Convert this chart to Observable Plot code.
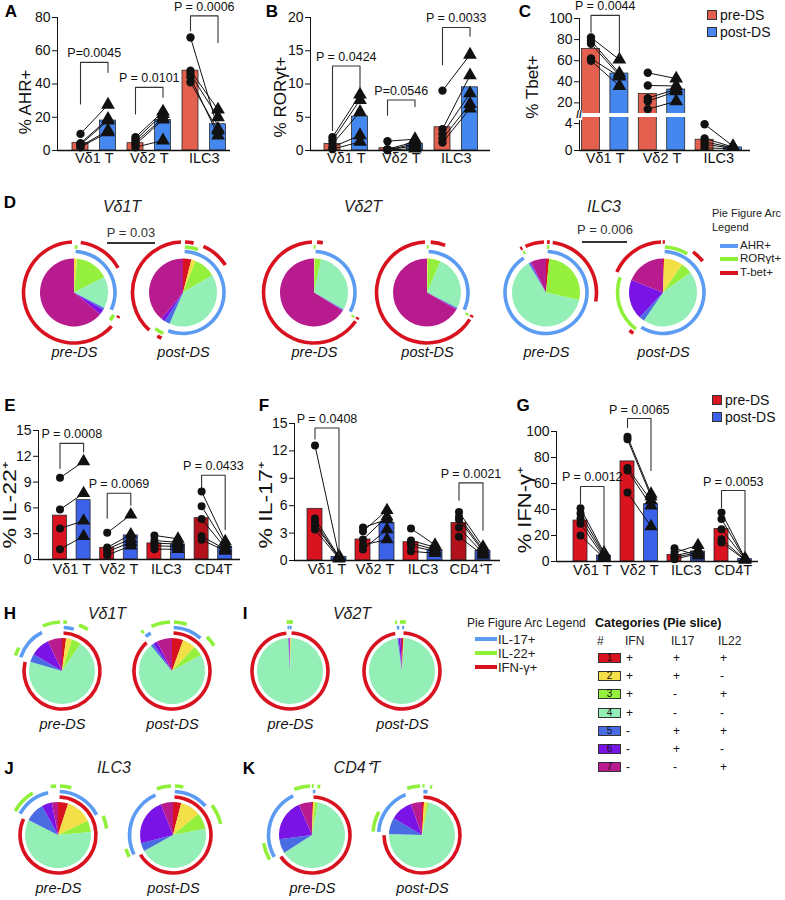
<!DOCTYPE html>
<html><head><meta charset="utf-8">
<script src="https://cdn.jsdelivr.net/npm/d3@7"></script>
<script src="https://cdn.jsdelivr.net/npm/@observablehq/plot@0.6"></script>
<style>
body{margin:0;background:#fff;}
#fig{position:relative;width:785px;height:900px;overflow:hidden;font-family:"Liberation Sans",Arial,Helvetica,sans-serif;color:#111;background:#fff;}
.lbl{position:absolute;white-space:nowrap;line-height:1;}
</style></head><body><div id="fig"></div>
<script>
// ---------------- DATA ----------------
const topGroups = ["Vδ1 T", "Vδ2 T", "ILC3"];
// A: % AHR+
const ahrBarPre = [4.6, 4.4, 48];
const ahrBarPost = [18, 18.3, 15.8];
const ahrPre = [[10, 4.4, 3.6, 2.6, 2.0], [8.0, 6.4, 5.0, 3.6, 2.0], [68, 48, 46, 44, 41]];
const ahrPost = [[27.5, 19, 18, 12, 11], [23.4, 22, 19.6, 18.6, 6], [13, 24.6, 20, 9, 12]];
const ahrP = [{g: 0, top: 53, l: 28, r: 47, p: "P=0.0045"}, {g: 1, top: 38, l: 22, r: 32, p: "P = 0.0101"}, {g: 2, top: 81, l: 72, r: 65, p: "P = 0.0006"}];
// B: % RORγt+
const rorBarPre = [1.0, 0.35, 3.5];
const rorBarPost = [5.1, 1.0, 9.5];
const rorPre = [[2.0, 1.5, 1.0, 0.5, 0.2], [1.4, 0.2, 0.1, 0.1, 0.05], [9.0, 3.2, 2.5, 1.8, 1.2]];
const rorPost = [[8.4, 7.6, 5.8, 2.3, 1.3], [1.7, 1.3, 1.0, 0.7, 0.3], [14.4, 11.3, 8.6, 7.0, 6.3]];
const rorP = [{g: 0, top: 12.7, l: 3.0, r: 9.4, p: "P = 0.0424"}, {g: 1, top: 7.6, l: 5.3, r: 6.6, p: "P=0.0546"}, {g: 2, top: 18.5, l: 12.9, r: 17.2, p: "P = 0.0033"}];
// C: % Tbet+
const tbetBarPre = [71, 28.5, 1.6];
const tbetBarPost = [47.8, 32.6, 0.45];
const tbetPre = [[82, 79, 76, 62, 60], [48.5, 36.5, 24.5, 21.5, 14], [3.9, 1.8, 1.3, 0.9, 0.4]];
const tbetPost = [[61, 48, 46, 45, 36], [43, 36, 33, 31, 21.5], [0.65, 0.5, 0.4, 0.35, 0.25]];
const tbetP = [{g: 0, top: 103, l: 87, r: 63.6, p: "P = 0.0044"}];

// E: % IL-22+
const il22Groups = ["Vδ1 T", "Vδ2 T", "ILC3", "CD4T"];
const il22BarPre = [5.1, 1.36, 1.87, 4.8];
const il22BarPost = [6.9, 2.8, 1.75, 1.48];
const il22Pre = [[9.5, 5.8, 3.6, 1.2], [3.1, 1.4, 1.2, 0.9, 0.5], [2.8, 2.2, 1.9, 1.6, 1.2], [7.9, 6.2, 4.7, 2.7, 2.3]];
const il22Post = [[11.4, 7.7, 4.5, 2.7], [5.2, 2.9, 2.4, 2.0, 1.6], [2.4, 2.0, 1.8, 1.5, 1.2], [2.1, 1.75, 1.35, 1.2, 1.0]];
const il22P = [{g: 0, top: 13.5, l: 10.6, r: 12.5, p: "P = 0.0008"}, {g: 1, top: 7.7, l: 4.8, r: 6.3, p: "P = 0.0069"}, {g: 3, top: 9.8, l: 8.3, r: 3.5, p: "P = 0.0433"}];
// F: % IL-17+
const il17Groups = ["Vδ1 T", "Vδ2 T", "ILC3", "CD4⁺T"];
const il17BarPre = [5.66, 2.3, 2.0, 4.1];
const il17BarPost = [0.4, 4.1, 1.17, 1.05];
const il17Pre = [[12.6, 4.6, 4.2, 3.9, 3.4], [3.6, 3.2, 2.3, 1.7, 1.2], [3.5, 2.2, 1.9, 1.6, 1.0], [5.3, 4.8, 4.5, 3.6, 2.6]];
const il17Post = [[0.5, 0.4, 0.3, 0.3, 0.2], [4.5, 5.5, 4.8, 2.3, 3.4], [1.7, 1.45, 1.2, 1.0, 0.8], [1.5, 1.2, 1.0, 0.8, 0.6]];
const il17P = [{g: 0, top: 14.5, l: 13.3, r: 0.6, p: "P = 0.0408"}, {g: 3, top: 8.5, l: 6.6, r: 3.3, p: "P = 0.0021"}];
// G: % IFN-γ+
const ifnGroups = ["Vδ1 T", "Vδ2 T", "ILC3", "CD4T"];
const ifnBarPre = [31.5, 77, 5.1, 25];
const ifnBarPost = [4.5, 44, 7.7, 1.8];
const ifnPre = [[41, 37, 33, 29, 20], [96, 94, 72, 70, 53], [10.2, 6.9, 4.4, 3.1, 1.8], [37.7, 32.6, 24.9, 17.2, 14.6]];
const ifnPost = [[6.9, 5.6, 4.4, 3.1, 2.6], [52, 50, 47, 43, 27], [4.5, 12.5, 8.5, 7, 6], [2.5, 2, 1.8, 1.5, 1.2]];
const ifnP = [{g: 0, top: 57.7, l: 44.6, r: 8, p: "P = 0.0012"}, {g: 1, top: 110, l: 103, r: 70, p: "P = 0.0065"}, {g: 3, top: 54.6, l: 41.5, r: 7, p: "P = 0.0053"}];

// Pie slice categories (1..7) and marker signs
const catIds = ["1", "2", "3", "4", "5", "6", "7"];
const catIFN = ["+", "+", "+", "+", "-", "-", "-"];
const catIL17 = ["+", "+", "-", "-", "+", "+", "-"];
const catIL22 = ["+", "-", "+", "-", "+", "-", "+"];
// D pies (AHR / RORγt / T-bet), fractions of categories 1..7
const dVd1Pre = [0, 0.015, 0.16, 0.15, 0.01, 0.025, 0.64];
const dVd1Post = [0.04, 0.02, 0.105, 0.40, 0.025, 0.02, 0.39];
const dVd2Pre = [0, 0.004, 0.03, 0.30, 0.003, 0.003, 0.66];
const dVd2Post = [0, 0.005, 0.06, 0.26, 0.005, 0.003, 0.667];
const dIlc3Pre = [0.015, 0, 0.27, 0.63, 0.008, 0.004, 0.073];
const dIlc3Post = [0.005, 0.09, 0.055, 0.445, 0.025, 0.19, 0.19];
// H-K pies (IFN / IL17 / IL22)
const hVd1Pre = [0.02, 0.03, 0.045, 0.70, 0.04, 0.095, 0.07];
const hVd1Post = [0.055, 0.065, 0.05, 0.72, 0.015, 0.02, 0.075];
const iVd2Pre = [0.001, 0.004, 0.001, 0.985, 0.003, 0.004, 0.002];
const iVd2Post = [0.006, 0.002, 0.002, 0.968, 0.005, 0.01, 0.007];
const jIlc3Pre = [0.05, 0.13, 0.055, 0.59, 0.095, 0.05, 0.03];
const jIlc3Post = [0.04, 0.10, 0.08, 0.45, 0.04, 0.23, 0.06];
const kCd4Pre = [0.005, 0.01, 0.015, 0.63, 0.07, 0.205, 0.065];
const kCd4Post = [0.01, 0.015, 0.01, 0.72, 0.08, 0.11, 0.055];

// ---------------- STYLE ----------------
const FONT = '"Liberation Sans", Arial, Helvetica, sans-serif';
const sliceColors = ["#D8121E", "#F3DF47", "#94F03D", "#93EFB6", "#4A6CE3", "#7A13E6", "#B71B8E"];
const RED = "#D8121E", BLUE_ARC = "#5B9CF2", GREEN_ARC = "#8FF03A";
const fig = document.getElementById("fig");

function place(node, left, top) {
  node.style.position = "absolute";
  node.style.left = left + "px";
  node.style.top = top + "px";
  fig.appendChild(node);
}
function ctext(str, cx, cy, css = {}, extra = "") {
  const d = document.createElement("div");
  d.className = "lbl";
  d.textContent = str;
  d.style.left = cx + "px";
  d.style.top = cy + "px";
  d.style.transform = "translate(-50%,-50%) " + extra;
  Object.assign(d.style, css);
  fig.appendChild(d);
  return d;
}
function ltext(str, x, cy, css = {}) {
  const d = document.createElement("div");
  d.className = "lbl";
  d.textContent = str;
  d.style.left = x + "px";
  d.style.top = cy + "px";
  d.style.transform = "translateY(-50%)";
  Object.assign(d.style, css);
  fig.appendChild(d);
  return d;
}
function box(x, y, w, h, css) {
  const d = document.createElement("div");
  d.style.position = "absolute";
  d.style.left = x + "px"; d.style.top = y + "px";
  d.style.width = w + "px"; d.style.height = h + "px";
  Object.assign(d.style, css);
  fig.appendChild(d);
  return d;
}

function bandOpts(n, W, c0, step, bw) {
  const pi = 1 - bw / step;
  const po = Math.max(0, (W / step - (n - pi)) / 2);
  const span = W - step * (n - pi);
  const align = span > 0 ? Math.max(0, Math.min(1, (c0 - bw / 2) / span)) : 0.5;
  return {paddingInner: pi, paddingOuter: po, align};
}

function barPanel(cfg) {
  const {groups, barPre, barPost, ptsPre, ptsPost, brackets} = cfg;
  const keys = groups.flatMap(g => [g + "|pre", g + "|post"]);
  const bars = groups.flatMap((g, i) => [
    {key: g + "|pre", v: barPre[i], t: (cfg.darkLast && i === groups.length - 1) ? "dark" : "pre"},
    {key: g + "|post", v: barPost[i], t: "post"}
  ]);
  const pre = [], post = [], links = [];
  groups.forEach((g, i) => {
    ptsPre[i].forEach((v, j) => { pre.push({key: g + "|pre", v}); links.push({key: g + "|pre", v, id: g + j}); });
    ptsPost[i].forEach((v, j) => { post.push({key: g + "|post", v}); links.push({key: g + "|post", v, id: g + j}); });
  });
  const br = (brackets || []).flatMap((b, k) => {
    const g = groups[b.g];
    return [{key: g + "|pre", v: b.l, id: k}, {key: g + "|pre", v: b.top, id: k}, {key: g + "|post", v: b.top, id: k}, {key: g + "|post", v: b.r, id: k}];
  });
  const W = cfg.width - cfg.marginLeft - cfg.marginRight;
  const clip = !!cfg.clip;
  const svg = Plot.plot({
    width: cfg.width, height: cfg.height,
    marginLeft: cfg.marginLeft, marginRight: cfg.marginRight, marginTop: cfg.marginTop, marginBottom: cfg.marginBottom,
    style: {fontFamily: FONT, fontSize: "14px", color: "#111", background: "transparent", overflow: "visible"},
    x: {type: "band", domain: keys, ...bandOpts(keys.length, W, cfg.c0, cfg.step, cfg.bw), round: false, axis: null},
    y: {domain: cfg.yDomain, ticks: cfg.yTicks, tickFormat: d => String(d), tickSize: 5, tickPadding: 2, label: null, line: true},
    color: {domain: ["pre", "post", "dark"], range: cfg.colors},
    marks: [
      Plot.barY(bars, {x: "key", y: "v", fill: "t", stroke: "#2a2a2a", strokeWidth: 0.8, clip}),
      Plot.line(links, {x: "key", y: "v", z: "id", stroke: "#111", strokeWidth: 1, clip}),
      Plot.dot(pre, {x: "key", y: "v", r: cfg.r, fill: "#111", symbol: "circle", clip}),
      Plot.dot(post, {x: "key", y: "v", r: cfg.r + 0.9, fill: "#111", symbol: "triangle", clip}),
      cfg.baseline === false ? null : Plot.ruleY([cfg.yDomain[0]], {stroke: "#111", strokeWidth: 1.5}),
      Plot.line(br, {x: "key", y: "v", z: "id", stroke: "#333", strokeWidth: 1.1}),
      Plot.text(brackets || [], {x: b => groups[b.g] + "|pre", y: "top", text: "p", dx: cfg.step / 2, dy: -9, fontSize: cfg.pSize || 12.5}),
      cfg.labels === false ? null : Plot.text(groups, {x: g => g + "|pre", text: d => d, frameAnchor: "bottom", dx: cfg.step / 2, dy: cfg.labelDy || 13, fontSize: 14.5})
    ]
  });
  place(svg, cfg.left, cfg.top);
}

function piePanel(cfg) {
  const {top, xPre, xPost, height, marginBottom, r, radii, ringColors, pies, labelDy} = cfg;
  const marginLeft = 60, marginRight = 60;
  const width = marginLeft + (xPost - xPre) + marginRight;
  const signs = [catIFN, catIL17, catIL22];
  const svg = Plot.plot({
    width, height, marginLeft, marginRight, marginTop: 0, marginBottom,
    style: {fontFamily: FONT, fontSize: "14px", color: "#111", background: "transparent", overflow: "visible"},
    x: {type: "point", domain: ["pre-DS", "post-DS"], padding: 0, axis: null},
    marks: [
      Plot.text(pies, {x: "time", text: "time", frameAnchor: "bottom", dy: labelDy, fontStyle: "italic", fontSize: 14.5}),
      (index, scales, values, dims) => {
        const g = d3.create("svg:g");
        const cy = (dims.marginTop + dims.height - dims.marginBottom) / 2;
        const arcGen = d3.arc();
        for (const p of pies) {
          const cx = scales.x(p.time);
          const gg = g.append("g").attr("transform", `translate(${cx},${cy})`);
          const arcs = d3.pie().sort(null).value(d => d)(p.f);
          gg.selectAll("path.s").data(arcs).join("path")
            .attr("d", d => arcGen({innerRadius: 0, outerRadius: r, startAngle: d.startAngle, endAngle: d.endAngle}))
            .attr("fill", (d, i) => sliceColors[i]);
          const total = d3.sum(p.f);
          const cum = [0];
          p.f.forEach(v => cum.push(cum[cum.length - 1] + v / total * 2 * Math.PI));
          signs.forEach((sg, m) => {
            let k = 0;
            while (k < 7) {
              if (sg[k] === "+") {
                let k2 = k;
                while (k2 + 1 < 7 && sg[k2 + 1] === "+") k2++;
                const a0 = cum[k], a1 = cum[k2 + 1], len = a1 - a0;
                if (len > 0.002) {
                  const pad = Math.min(0.04, len * 0.2);
                  const mid = (a0 + a1) / 2;
                  const half = Math.max((len - 2 * pad) / 2, 0.022);
                  gg.append("path")
                    .attr("d", arcGen({innerRadius: radii[m] - 1.8, outerRadius: radii[m] + 1.8, startAngle: mid - half, endAngle: mid + half}))
                    .attr("fill", ringColors[m]);
                }
                k = k2 + 1;
              } else k++;
            }
          });
        }
        return g.node();
      }
    ]
  });
  place(svg, xPre - marginLeft, top);
}

// ---------------- TOP ROW ----------------
const topColors = ["#E3604E", "#4487EF", "#E3604E"];
barPanel({left: 0, top: 0, width: 240, height: 175, marginLeft: 57, marginRight: 10, marginTop: 17, marginBottom: 25,
  groups: topGroups, barPre: ahrBarPre, barPost: ahrBarPost, ptsPre: ahrPre, ptsPost: ahrPost, brackets: ahrP,
  yDomain: [0, 80], yTicks: [0, 20, 40, 60, 80], c0: 23, step: 27.5, bw: 16, r: 4.2, colors: topColors, labelDy: 12.5});
barPanel({left: 250, top: 0, width: 250, height: 175, marginLeft: 60, marginRight: 10, marginTop: 17, marginBottom: 25,
  groups: topGroups, barPre: rorBarPre, barPost: rorBarPost, ptsPre: rorPre, ptsPost: rorPost, brackets: rorP,
  yDomain: [0, 20], yTicks: [0, 5, 10, 15, 20], c0: 22, step: 27.5, bw: 16, r: 4.2, colors: topColors, labelDy: 12.5});
// C: broken axis (upper and lower segments)
barPanel({left: 520, top: 0, width: 240, height: 113, marginLeft: 59, marginRight: 10, marginTop: 18, marginBottom: 0,
  groups: topGroups, barPre: tbetBarPre, barPost: tbetBarPost, ptsPre: tbetPre, ptsPost: tbetPost, brackets: tbetP,
  yDomain: [9.9, 100], yTicks: [20, 40, 60, 80, 100], c0: 11.5, step: 28.4, bw: 18, r: 4.2, colors: topColors,
  clip: true, baseline: false, labels: false});
barPanel({left: 520, top: 117, width: 240, height: 58, marginLeft: 59, marginRight: 10, marginTop: 0, marginBottom: 25,
  groups: topGroups, barPre: tbetBarPre, barPost: tbetBarPost, ptsPre: tbetPre, ptsPost: tbetPost, brackets: [],
  yDomain: [0, 4.9], yTicks: [0, 4], c0: 11.5, step: 28.4, bw: 18, r: 4.2, colors: topColors, clip: true, labelDy: 12.5});

// ---------------- BOTTOM BAR ROW ----------------
const botColors = ["#D9131F", "#3B62E8", "#B3121C"];
barPanel({left: 0, top: 400, width: 250, height: 184, marginLeft: 38, marginRight: 10, marginTop: 30, marginBottom: 25,
  groups: il22Groups, barPre: il22BarPre, barPost: il22BarPost, ptsPre: il22Pre, ptsPost: il22Post, brackets: il22P,
  yDomain: [0, 15], yTicks: [0, 3, 6, 9, 12, 15], c0: 21.5, step: 23.6, bw: 14, r: 4, colors: botColors, darkLast: true, labelDy: 14});
barPanel({left: 255, top: 395, width: 255, height: 190, marginLeft: 39, marginRight: 10, marginTop: 28, marginBottom: 25,
  groups: il17Groups, barPre: il17BarPre, barPost: il17BarPost, ptsPre: il17Pre, ptsPost: il17Post, brackets: il17P,
  yDomain: [0, 15], yTicks: [0, 3, 6, 9, 12, 15], c0: 20.5, step: 24, bw: 15, r: 4, colors: botColors, darkLast: true, labelDy: 13});
barPanel({left: 515, top: 395, width: 253, height: 191, marginLeft: 41, marginRight: 10, marginTop: 36, marginBottom: 25,
  groups: ifnGroups, barPre: ifnBarPre, barPost: ifnBarPost, ptsPre: ifnPre, ptsPost: ifnPost, brackets: ifnP,
  yDomain: [0, 100], yTicks: [0, 20, 40, 60, 80, 100], c0: 24, step: 23.5, bw: 14, r: 4, colors: botColors, labelDy: 13});

// ---------------- PIES ----------------
const dRings = [BLUE_ARC, GREEN_ARC, RED];   // AHR, RORγt, T-bet
const hRings = [RED, BLUE_ARC, GREEN_ARC];   // IFN-γ, IL-17, IL-22
const dPie = {top: 240, height: 125, marginBottom: 20, labelDy: 11, r: 34, radii: [41, 45.5, 50.5], ringColors: dRings};
piePanel({...dPie, xPre: 74, xPost: 183, pies: [{time: "pre-DS", f: dVd1Pre}, {time: "post-DS", f: dVd1Post}]});
piePanel({...dPie, xPre: 314, xPost: 427, pies: [{time: "pre-DS", f: dVd2Pre}, {time: "post-DS", f: dVd2Post}]});
piePanel({...dPie, xPre: 546, xPost: 663, pies: [{time: "pre-DS", f: dIlc3Pre}, {time: "post-DS", f: dIlc3Post}]});
const hPie = {top: 622, height: 118, marginBottom: 20, labelDy: 8, r: 33, radii: [38, 43.5, 49], ringColors: hRings};
piePanel({...hPie, xPre: 62, xPost: 172, pies: [{time: "pre-DS", f: hVd1Pre}, {time: "post-DS", f: hVd1Post}]});
piePanel({...hPie, xPre: 290, xPost: 402, pies: [{time: "pre-DS", f: iVd2Pre}, {time: "post-DS", f: iVd2Post}]});
const jPie = {top: 786, height: 114, marginBottom: 16, labelDy: 8, r: 33, radii: [38, 43.5, 49], ringColors: hRings};
piePanel({...jPie, xPre: 58, xPost: 173, pies: [{time: "pre-DS", f: jIlc3Pre}, {time: "post-DS", f: jIlc3Post}]});
piePanel({...jPie, xPre: 312, xPost: 422, pies: [{time: "pre-DS", f: kCd4Pre}, {time: "post-DS", f: kCd4Post}]});

// ---------------- TEXT ----------------
const letterCss = {fontWeight: "bold", fontSize: "17px", color: "#000"};
[["A", 11, 11], ["B", 272, 11], ["C", 525, 11], ["D", 10, 202], ["E", 10, 405], ["F", 264, 405], ["G", 523, 405],
 ["H", 10, 613], ["I", 245, 613], ["J", 9, 768], ["K", 249, 768]].forEach(([t, x, y]) => ctext(t, x, y, letterCss));

const ylabCss = {fontSize: "17px"};
ctext("% AHR+", 25, 102, ylabCss, "rotate(-90deg)");
ctext("% RORγt+", 280, 97, ylabCss, "rotate(-90deg)");
ctext("% Tbet+", 532, 87, ylabCss, "rotate(-90deg)");
const ylab2 = {fontSize: "18px"};
ctext("% IL-22⁺", 10, 505, ylab2, "rotate(-90deg) scale(1.28,1)");
ctext("% IL-17⁺", 266, 505, ylab2, "rotate(-90deg) scale(1.28,1)");
ctext("% IFN-γ⁺", 525, 510, ylab2, "rotate(-90deg) scale(1.22,1)");

// C axis break marks
ctext("//", 579, 115, {fontSize: "10px", fontWeight: "bold", background: "#fff"});

// legends for bar charts
box(707, 10, 10, 10, {background: "#E3604E", border: "1px solid #333", boxSizing: "border-box"});
box(707, 27, 10, 10, {background: "#4487EF", border: "1px solid #333", boxSizing: "border-box"});
ltext("pre-DS", 720, 15, {fontSize: "14px"});
ltext("post-DS", 720, 32, {fontSize: "14px"});
box(712, 395, 10, 10, {background: "#D9131F", border: "1px solid #333", boxSizing: "border-box"});
box(712, 412, 10, 10, {background: "#3B62E8", border: "1px solid #333", boxSizing: "border-box"});
ltext("pre-DS", 725, 400, {fontSize: "14px"});
ltext("post-DS", 725, 417, {fontSize: "14px"});

// pie titles
const pt = {fontSize: "16px", fontStyle: "italic", color: "#222"};
ctext("Vδ1T", 122, 207, pt);
ctext("Vδ2T", 363, 207, pt);
ctext("ILC3", 604, 207, pt);
ctext("Vδ1T", 107, 614, pt);
ctext("Vδ2T", 352, 614, pt);
ctext("ILC3", 114, 768, pt);
ctext("CD4⁺T", 357, 768, pt);

// D p-values
ctext("P = 0.03", 131, 232, {fontSize: "13px", color: "#333"});
box(107, 242, 48, 1.5, {background: "#333"});
ctext("P = 0.006", 605, 229, {fontSize: "13px", color: "#333"});
box(582, 241, 45, 1.5, {background: "#333"});

// D arc legend
ltext("Pie Figure Arc", 712, 213, {fontSize: "11px", color: "#222"});
ltext("Legend", 712, 227, {fontSize: "11px", color: "#222"});
[["AHR+", BLUE_ARC, 246], ["RORγt+", GREEN_ARC, 259], ["T-bet+", RED, 273]].forEach(([t, c, y]) => {
  box(720, y - 2, 18, 4, {background: c});
  ltext(t, 740, y, {fontSize: "11.5px", color: "#222"});
});

// H-K arc legend
ltext("Pie Figure Arc Legend", 467, 623, {fontSize: "12px", color: "#222"});
[["IL-17+", BLUE_ARC, 639], ["IL-22+", GREEN_ARC, 653], ["IFN-γ+", RED, 667]].forEach(([t, c, y]) => {
  box(475, y - 2, 22, 4, {background: c});
  ltext(t, 498, y, {fontSize: "13px", color: "#222"});
});

// Categories table
ltext("Categories (Pie slice)", 595, 623, {fontSize: "12.5px", fontWeight: "bold", color: "#111"});
ltext("#", 597, 641, {fontSize: "12px", color: "#222"});
ltext("IFN", 625, 641, {fontSize: "12px", color: "#222"});
ltext("IL17", 671, 641, {fontSize: "12px", color: "#222"});
ltext("IL22", 718, 641, {fontSize: "12px", color: "#222"});
catIds.forEach((id, i) => {
  const cy = 658 + i * 18.2;
  const b = box(598, cy - 5, 23, 10, {background: sliceColors[i], border: "1px solid #333", boxSizing: "border-box",
    fontSize: "10px", lineHeight: "8px", textAlign: "center", color: "#111"});
  b.textContent = id;
  ltext(catIFN[i], 626, cy, {fontSize: "12px"});
  ltext(catIL17[i], 673, cy, {fontSize: "12px"});
  ltext(catIL22[i], 720, cy, {fontSize: "12px"});
});
</script></body></html>
